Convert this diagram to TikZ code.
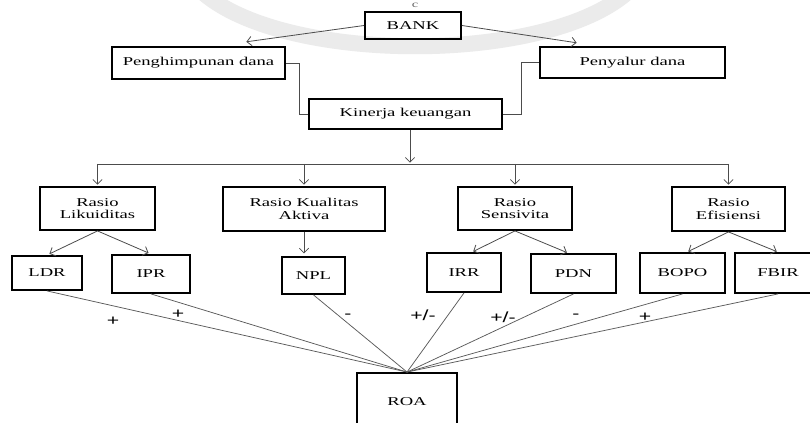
\documentclass[tikz,border=0pt]{standalone}
\usepackage{fontspec}
\setmainfont{Liberation Serif}
\newfontfamily\boxfont{Liberation Serif}[FakeStretch=1.55]
\newfontfamily\signfont{Liberation Sans}[FakeStretch=1.45]
\usetikzlibrary{arrows.meta}
\tikzset{
  x=0.75pt, y=-0.75pt,
  box/.style={draw=black, line width=1.4pt, inner sep=0pt, align=center,
    font=\boxfont\fontsize{9}{9.4}\selectfont},
  conn/.style={draw=black!70, line width=0.6pt},
  arr/.style={conn, -{Straight Barb[length=3.5pt,width=7pt]}, shorten >=1pt},
  roaline/.style={draw=black!65, line width=0.55pt},
  sign/.style={inner sep=0pt, font=\signfont\fontsize{11}{11}\selectfont},
}
\newcommand\bx[6]{\node[box, minimum width={(#4-#2)*0.75pt}, minimum height={(#5-#3)*0.75pt}] (#1) at ({(#2+#4)/2},{(#3+#5)/2}) {#6};}
\begin{document}
\begin{tikzpicture}
\fill[white] (0,0) rectangle (810,423);
\useasboundingbox (0,0) rectangle (810,423);
% watermark arc
\draw[gray!16, line width=12pt] (200,-10) .. controls (280,65) and (550,65) .. (630,-10);
\node[inner sep=0pt, font=\boxfont\fontsize{7}{7}\selectfont, text=black!60] (cmark) at (415,5) {c};
% boxes
\bx{bank}{365}{12}{461}{39}{BANK}
\bx{peng}{112}{47}{285}{79}{Penghimpunan dana}
\bx{peny}{540}{47}{725}{78}{Penyalur dana}
\bx{kin}{309}{99}{502}{129}{Kinerja keuangan}
\bx{rl}{40}{187}{155}{230}{Rasio\\Likuiditas}
\bx{rka}{223}{187}{385}{231}{Rasio Kualitas\\Aktiva}
\bx{rs}{458}{187}{572}{230}{Rasio\\Sensivita}
\bx{re}{672}{187}{785}{231}{Rasio\\Efisiensi}
\bx{ldr}{12}{256}{82}{290}{LDR}
\bx{ipr}{112}{255}{190}{293}{IPR}
\bx{npl}{282}{257}{345}{294}{NPL}
\bx{irr}{427}{253}{501}{292}{IRR}
\bx{pdn}{531}{254}{616}{293}{PDN}
\bx{bopo}{640}{253}{725}{293}{BOPO}
\bx{fbir}{735}{253}{821}{293}{FBIR}
\bx{roa}{357}{373}{457}{431}{ROA}
% top connectors
\coordinate (pa) at (245,42);
\coordinate (pb) at (578,43);
\draw[arr] (bank.west) -- (pa);
\draw[arr] (bank.east) -- (pb);
\draw[conn] (peng.east) -- ++(13,0) |- (kin.west);
\draw[conn] (peny.west) -- ++(-18,0) |- (kin.east);
% bus
\coordinate (hb) at (410,164);
\draw[arr] (kin.south -| hb) -- (hb);
\draw[conn] (rl.north |- hb) -- (re.north |- hb);
\foreach \n in {rl,rka,rs,re}{\draw[arr] (\n.north |- hb) -- (\n.north);}
% level 2 to 3
\draw[arr, shorten >=2pt] (rl.south) -- (ldr.north);
\draw[arr, shorten >=2pt] (rl.south) -- (ipr.north);
\draw[arr, shorten >=2pt] (rka.south) -- (rka.south |- npl.north);
\draw[arr, shorten >=1pt] (rs.south) -- ([xshift=6pt]irr.north);
\draw[arr, shorten >=1pt] (rs.south) -- ([xshift=-4pt]pdn.north);
\draw[arr, shorten >=1pt] (re.south) -- ([xshift=3.4pt]bopo.north);
\draw[arr, shorten >=1pt] (re.south) -- (fbir.north);
% to ROA
\foreach \n in {ldr,ipr,npl,irr,pdn,bopo,fbir}{\draw[roaline] (\n.south) -- (roa.north);}
% signs
\node[sign] (s1) at (113,321) {+};
\node[sign] (s2) at (178,314) {+};
\node[sign] (s3) at (348,316) {-};
\node[sign] (s4) at (423,315) {+/-};
\node[sign] (s5) at (503,317) {+/-};
\node[sign] (s6) at (576,316) {-};
\node[sign] (s7) at (645,317) {+};
\end{tikzpicture}
\end{document}
